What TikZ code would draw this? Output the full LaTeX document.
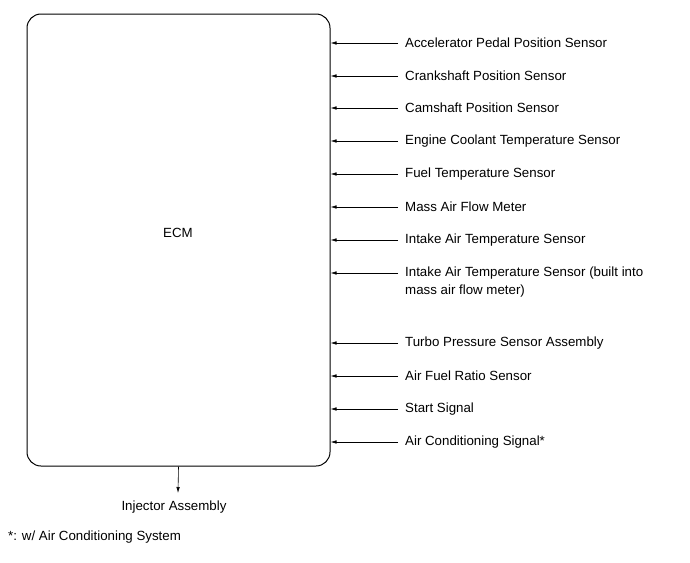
\documentclass[tikz,border=0pt]{standalone}
\usepackage{fontspec}
\setmainfont{Liberation Sans}
\usetikzlibrary{arrows.meta}
\begin{document}
\begin{tikzpicture}[x=1pt,y=-1pt,
  lbl/.style={font=\fontsize{13.3}{18}\selectfont, inner sep=0pt, anchor=west, align=left},
  sig/.style={line width=0.6pt, -{Latex[length=6pt,width=3.5pt]}},
  box/.style={draw, line width=1pt, rounded corners=14pt, minimum width=303pt, minimum height=452pt, inner sep=0pt}]
\useasboundingbox (0,0) rectangle (690,562);
\node[box] (ecm) at (178.5,240) {};
\node[lbl, anchor=center] (ecmtxt) at (178,233) {ECM};
\foreach \n/\y/\t in {a/43/Accelerator Pedal Position Sensor,
  b/76/Crankshaft Position Sensor,
  c/108/Camshaft Position Sensor,
  d/141/Engine Coolant Temperature Sensor,
  e/174/Fuel Temperature Sensor,
  f/207/Mass Air Flow Meter,
  g/240/Intake Air Temperature Sensor,
  i/343/Turbo Pressure Sensor Assembly,
  j/376/Air Fuel Ratio Sensor,
  k/409/Start Signal,
  l/442/Air Conditioning Signal*}{
  \node[lbl] (\n) at (405,\y) {\t};
  \coordinate (\n s) at (398,\y);
  \draw[sig] (\n s) -- (\n s -| ecm.east);
}
\node[lbl, anchor=north west] (h) at (405,267) {Intake Air Temperature Sensor (built into\\mass air flow meter)};
\coordinate (hs) at (398,273);
\draw[sig] (hs) -- (hs -| ecm.east);
\node[lbl, anchor=center] (inj) at (174,507) {Injector Assembly};
\draw[sig] (ecm.south) -- (178,493);
\node[lbl] (note) at (8,537) {*: w/ Air Conditioning System};
\end{tikzpicture}
\end{document}
